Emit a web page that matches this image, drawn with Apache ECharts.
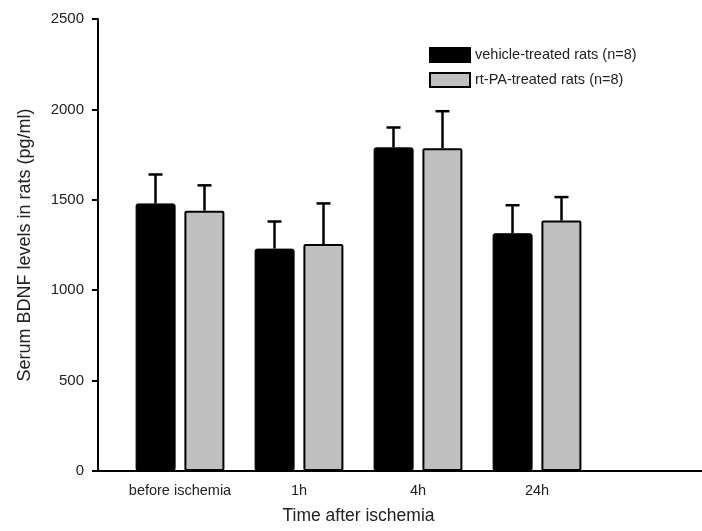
<!DOCTYPE html>
<html>
<head>
<meta charset="utf-8">
<script src="https://cdn.jsdelivr.net/npm/echarts@6/dist/echarts.min.js"></script>
<style>
  html, body { margin: 0; padding: 0; background: #fff; }
  #chart { width: 702px; height: 531px; }
</style>
</head>
<body>
<div id="chart"></div>
<script>
// values (pg/ml)
const categories = ['before ischemia', '1h', '4h', '24h'];
const vehicleMean = [1480, 1230, 1790, 1315];
const vehicleErr = [160, 150, 110, 155];
const rtpaMean = [1440, 1255, 1785, 1385];
const rtpaErr = [140, 225, 205, 130];
const yTicks = [0, 500, 1000, 1500, 2000, 2500];

const FONT = 'Liberation Sans, Arial, sans-serif';
const barOffset = 24.5; // half of bar width + gap, px

function errData(mean, err) {
  return mean.map((m, i) => [i, m, m + err[i]]);
}

function errRender(offset) {
  return function (params, api) {
    const base = api.coord([api.value(0), api.value(1)]);
    const top = api.coord([api.value(0), api.value(2)]);
    const x = base[0] + offset;
    const style = { stroke: '#000', lineWidth: 2.5 };
    return {
      type: 'group',
      children: [
        { type: 'line', shape: { x1: x, y1: base[1], x2: x, y2: top[1] }, style: style },
        { type: 'line', shape: { x1: x - 7, y1: top[1], x2: x + 7, y2: top[1] }, style: style }
      ]
    };
  };
}

const chart = echarts.init(document.getElementById('chart'));
chart.setOption({
  animation: false,
  textStyle: { fontFamily: FONT },
  legend: {
    orient: 'vertical',
    left: 424,
    top: 42,
    itemWidth: 40,
    itemHeight: 14,
    itemGap: 9,
    icon: 'rect',
    data: ['vehicle-treated rats (n=8)', 'rt-PA-treated rats (n=8)'],
    textStyle: { fontSize: 14.5, color: '#222', fontFamily: FONT }
  },
  grid: [
    // bars
    { left: 120.5, right: 105.5, top: 19, bottom: 60 },
    // frame axes
    { left: 98, right: 0, top: 19, bottom: 60 }
  ],
  xAxis: [{
    gridIndex: 0,
    type: 'category',
    data: categories,
    axisLine: { show: false },
    axisTick: { show: false },
    axisLabel: { fontSize: 14.5, color: '#222', margin: 12, interval: 0 },
    name: 'Time after ischemia',
    nameLocation: 'middle',
    nameGap: 36,
    nameTextStyle: { fontSize: 17.5, color: '#222' }
  }, {
    gridIndex: 1,
    type: 'value',
    min: 0,
    max: 1,
    axisLine: { show: true, lineStyle: { color: '#000', width: 2 } },
    axisTick: { show: false },
    axisLabel: { show: false },
    splitLine: { show: false }
  }],
  yAxis: [{
    gridIndex: 0,
    type: 'value',
    min: yTicks[0],
    max: yTicks[yTicks.length - 1],
    interval: 500,
    show: false,
    splitLine: { show: false }
  }, {
    gridIndex: 1,
    type: 'value',
    min: yTicks[0],
    max: yTicks[yTicks.length - 1],
    interval: 500,
    axisLine: { show: true, lineStyle: { color: '#000', width: 2 } },
    axisTick: { show: true, length: 6, lineStyle: { color: '#000', width: 2 } },
    axisLabel: { fontSize: 15, color: '#222', margin: 14, formatter: v => String(v) },
    splitLine: { show: false },
    name: 'Serum BDNF levels in rats (pg/ml)',
    nameLocation: 'middle',
    nameGap: 64,
    nameTextStyle: { fontSize: 18, color: '#222' }
  }],
  series: [{
    name: 'vehicle-treated rats (n=8)',
    type: 'bar',
    xAxisIndex: 0,
    yAxisIndex: 0,
    barWidth: 40,
    barGap: '22%',
    data: vehicleMean,
    itemStyle: { color: '#000', borderColor: '#000', borderWidth: 1, borderRadius: 2 }
  }, {
    name: 'rt-PA-treated rats (n=8)',
    type: 'bar',
    xAxisIndex: 0,
    yAxisIndex: 0,
    barWidth: 40,
    data: rtpaMean,
    itemStyle: { color: '#c0c0c0', borderColor: '#000', borderWidth: 2, borderRadius: 1 }
  }, {
    type: 'custom',
    xAxisIndex: 0,
    yAxisIndex: 0,
    renderItem: errRender(-barOffset),
    data: errData(vehicleMean, vehicleErr),
    z: 1
  }, {
    type: 'custom',
    xAxisIndex: 0,
    yAxisIndex: 0,
    renderItem: errRender(barOffset),
    data: errData(rtpaMean, rtpaErr),
    z: 1
  }]
});
</script>
</body>
</html>
